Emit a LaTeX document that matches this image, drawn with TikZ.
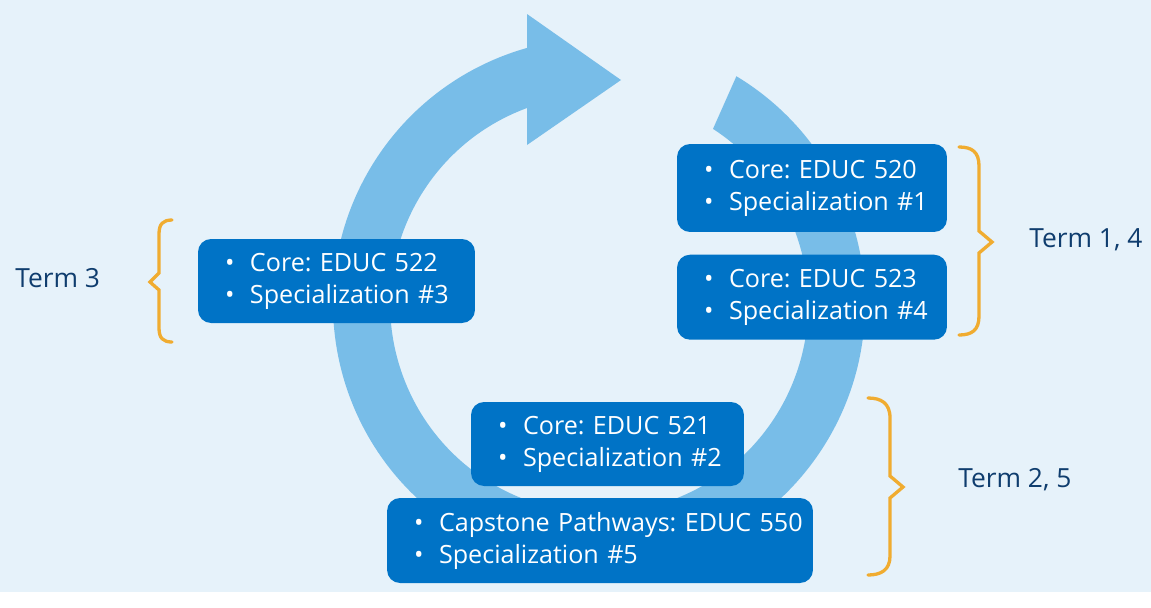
\documentclass[tikz,border=0pt]{standalone}
\usepackage{fontspec}
\setmainfont{Open Sans}
\usetikzlibrary{positioning, calc}
\definecolor{bgblue}{HTML}{E6F2FA}
\definecolor{ringblue}{HTML}{78BDE8}
\definecolor{boxblue}{HTML}{0073C6}
\definecolor{braceorange}{HTML}{F0AC30}
\definecolor{termblue}{HTML}{0F3D6E}
\newcommand{\bul}[1]{\makebox[0.5cm][l]{\textbullet}\mbox{#1}}
\frenchspacing

\begin{document}
\begin{tikzpicture}[x=0.02cm, y=0.02cm,
    course/.style={fill=boxblue, text=white, rounded corners=0.26cm, align=left,
        inner xsep=0.54cm, inner ysep=0pt, font=\fontsize{14.3}{18.2}\selectfont},
    term/.style={text=termblue, anchor=base west, inner sep=0pt, font=\fontsize{15}{18}\selectfont},
    curly/.style={draw=braceorange, line width=0.066cm, line cap=round}]

    \fill[bgblue] (0,0) rectangle (1151,-592);
    \coordinate (ctr) at (599,-304);

    % cycle arrow
    \fill[ringblue] ([shift={(58.9:266)}]ctr) arc[start angle=58.9, end angle=-254.3, radius=266]
        -- (527,-14) -- (621,-80) -- (527,-145) -- (527,-108)
        arc[start angle=-249.8, end angle=57, radius=209] -- cycle;

    % courses
    \node[course, text width=4.32cm, minimum height=1.76cm] (c520) at (812,-188)
        {\bul{Core: EDUC 520}\\\bul{Specialization \#1}};
    \node[course, text width=4.32cm, minimum height=1.7cm, below=0.44cm of c520] (c523)
        {\bul{Core: EDUC 523}\\\bul{Specialization \#4}};
    \node[course, text width=4.46cm, minimum height=1.68cm] (c522) at (336.5,-281)
        {\bul{Core: EDUC 522}\\\bul{Specialization \#3}};
    \node[course, text width=4.38cm, minimum height=1.68cm] (c521) at (607.5,-444)
        {\bul{Core: EDUC 521}\\\bul{Specialization \#2}};
    \node[course, text width=7.44cm, minimum height=1.7cm] (c550) at (600,-540.5)
        {\bul{Capstone Pathways: EDUC 550}\\\bul{Specialization \#5}};

    % terms
    \node[term] (t3) at (15,-287) {Term 3};
    \node[term] (t14) at (1029,-247) {Term 1, 4};
    \node[term] (t25) at (958,-487) {Term 2, 5};

    \draw[curly] (172,-220) .. controls (163,-220) and (159,-224) .. (159,-234)
        -- (159,-273) -- (150,-282) -- (159,-290) -- (159,-328)
        .. controls (159,-338) and (163,-342) .. (172,-342);
    \draw[curly] (959,-147) .. controls (972,-147) and (979,-152) .. (979,-166)
        -- (979,-231) -- (992,-242) -- (979,-253) -- (979,-316)
        .. controls (979,-330) and (972,-335) .. (959,-335);
    \draw[curly] (868,-398) .. controls (881,-398) and (890,-403) .. (890,-418)
        -- (890,-476) -- (903,-487) -- (890,-498) -- (890,-556)
        .. controls (890,-570) and (881,-575) .. (868,-575);
\end{tikzpicture}
\end{document}
